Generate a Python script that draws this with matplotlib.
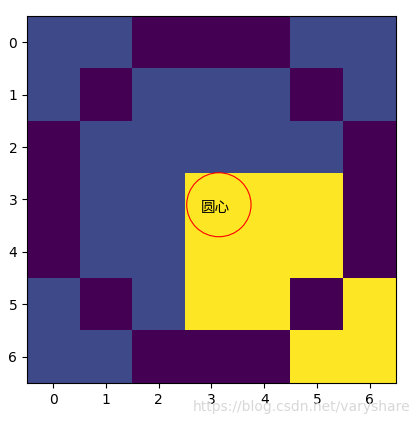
import numpy as np
import matplotlib
matplotlib.use("Agg")
from matplotlib import pyplot as plt
from matplotlib.patches import Circle

plt.rcParams['font.family'] = ['Noto Sans CJK SC', 'DejaVu Sans']

# 0 = purple, 1 = blue, 4.5 = yellow
grid = [
    [1, 1, 0, 0, 0, 1, 1],
    [1, 0, 1, 1, 1, 0, 1],
    [0, 1, 1, 1, 1, 1, 0],
    [0, 1, 1, 4.5, 4.5, 4.5, 0],
    [0, 1, 1, 4.5, 4.5, 4.5, 0],
    [1, 0, 1, 4.5, 4.5, 0, 4.5],
    [1, 1, 0, 0, 0, 4.5, 4.5],
]
center = (3.14, 3.1)
radius = 0.61
label = "圆心"

fig = plt.figure(figsize=(4.2, 4.23), dpi=100)
ax = fig.add_axes([27/420, 1 - 383/423, 369/420, 367/423])
ax.imshow(np.array(grid), cmap='viridis', aspect='auto')
ax.add_patch(Circle(center, radius, fill=False, edgecolor='red', linewidth=0.8))
ax.text(2.8, 3.17, label, fontsize=10.5, va='center', ha='left', color='black')
ax.set_xticks(range(7))
ax.set_yticks(range(7))
for t in ax.get_xticklabels() + ax.get_yticklabels():
    t.set_family('DejaVu Sans')

# blog watermark
fig.text(410/420, 1 - 411/423, "https://blog.csdn.net/varyshare", color='#d8d8d8',
         fontsize=10, ha='right', va='baseline', family='DejaVu Sans')

fig.savefig("out.png", dpi=100)
